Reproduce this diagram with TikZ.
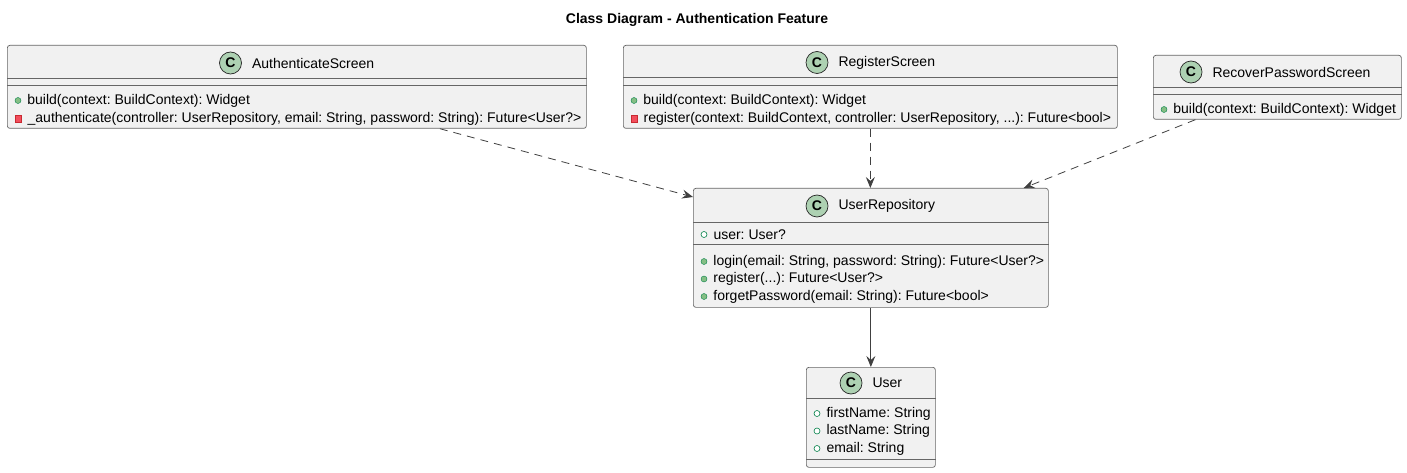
\documentclass[tikz,border=0pt]{standalone}
\usepackage{fontspec}
\setmainfont{Liberation Sans}
\usepackage{xcolor}
\usepackage{tikz}
\usetikzlibrary{positioning,arrows.meta}
\frenchspacing

\definecolor{boxfill}{HTML}{F1F1F1}
\definecolor{iconfill}{HTML}{ADD1B2}
\definecolor{pubfill}{HTML}{84BE84}
\definecolor{pubdraw}{HTML}{038048}
\definecolor{privfill}{HTML}{F24D5C}
\definecolor{privdraw}{HTML}{C82930}

\begin{document}
\begin{tikzpicture}[
    x=1pt, y=-1pt,
    every node/.style={font=\fontsize{14}{17}\selectfont},
    classbox/.style={rectangle, draw=black!60, fill=boxfill, line width=0.7pt, rounded corners=2.5pt, anchor=north west, inner sep=0pt},
    sep/.style={draw=black!60, line width=0.7pt},
    cicon/.style={circle, draw=black!85, fill=iconfill, line width=0.7pt, minimum size=22pt, inner sep=0pt, font=\fontsize{14}{17}\selectfont\bfseries},
    cname/.style={anchor=west, inner sep=0pt},
    member/.style={anchor=west, inner sep=0pt},
    pubm/.style={circle, draw=pubdraw, fill=pubfill, minimum size=6pt, inner sep=0pt},
    privm/.style={rectangle, draw=privdraw, fill=privfill, minimum size=6.5pt, inner sep=0pt},
    pubf/.style={circle, draw=pubdraw, fill=white, line width=0.6pt, minimum size=6pt, inner sep=0pt},
    dep/.style={-{Stealth[length=11pt, width=9pt, inset=4pt]}, dash pattern=on 8pt off 6pt, draw=black!75, line width=0.8pt},
    assoc/.style={-{Stealth[length=11pt, width=9pt, inset=4pt]}, draw=black!75, line width=0.8pt},
]
\path[fill=white] (0,0) rectangle (1407,473);

\node[font=\fontsize{14}{17}\selectfont\bfseries] (title) at (697,20) {Class Diagram - Authentication Feature};

% AuthenticateScreen
\node[classbox, minimum width=579pt, minimum height=83pt] (auth) at (7,45) {};
\draw[sep] ([yshift=-33pt]auth.north west) -- ([yshift=-33pt]auth.north east);
\draw[sep] ([yshift=-40pt]auth.north west) -- ([yshift=-40pt]auth.north east);
\node[cicon] (authI) at (230.5,63) {C};
\node[cname, right=10pt of authI] (authN) {AuthenticateScreen};
\node[pubm] (authM1) at (18,100.5) {};
\node[member, right=6pt of authM1] (authT1) {build(context: BuildContext): Widget};
\node[privm] (authM2) at (18,118.5) {};
\node[member, right=6pt of authM2] (authT2) {\_authenticate(controller: UserRepository, email: String, password: String): Future<User?>};

% RegisterScreen
\node[classbox, minimum width=494pt, minimum height=83pt] (reg) at (623,45) {};
\draw[sep] ([yshift=-32pt]reg.north west) -- ([yshift=-32pt]reg.north east);
\draw[sep] ([yshift=-40pt]reg.north west) -- ([yshift=-40pt]reg.north east);
\node[cicon] (regI) at (817,62.5) {C};
\node[cname, right=10pt of regI] (regN) {RegisterScreen};
\node[pubm] (regM1) at (634,100.5) {};
\node[member, right=6pt of regM1] (regT1) {build(context: BuildContext): Widget};
\node[privm] (regM2) at (634,118.5) {};
\node[member, right=6pt of regM2] (regT2) {register(context: BuildContext, controller: UserRepository, ...): Future<bool>};

% RecoverPasswordScreen
\node[classbox, minimum width=248pt, minimum height=64pt] (rec) at (1153,55) {};
\draw[sep] ([yshift=-32pt]rec.north west) -- ([yshift=-32pt]rec.north east);
\draw[sep] ([yshift=-39pt]rec.north west) -- ([yshift=-39pt]rec.north east);
\node[cicon] (recI) at (1191,72) {C};
\node[cname, right=10pt of recI] (recN) {RecoverPasswordScreen};
\node[pubm] (recM1) at (1164,109.5) {};
\node[member, right=6pt of recM1] (recT1) {build(context: BuildContext): Widget};

% UserRepository
\node[classbox, minimum width=355pt, minimum height=119pt] (repo) at (693,188) {};
\draw[sep] ([yshift=-34pt]repo.north west) -- ([yshift=-34pt]repo.north east);
\draw[sep] ([yshift=-56pt]repo.north west) -- ([yshift=-56pt]repo.north east);
\node[cicon] (repoI) at (817,206) {C};
\node[cname, right=10pt of repoI] (repoN) {UserRepository};
\node[pubf] (repoF1) at (704,234.5) {};
\node[member, right=6pt of repoF1] (repoA1) {user: User?};
\node[pubm] (repoM1) at (704,261.5) {};
\node[member, right=6pt of repoM1] (repoT1) {login(email: String, password: String): Future<User?>};
\node[pubm] (repoM2) at (704,279) {};
\node[member, right=6pt of repoM2] (repoT2) {register(...): Future<User?>};
\node[pubm] (repoM3) at (704,296.5) {};
\node[member, right=6pt of repoM3] (repoT3) {forgetPassword(email: String): Future<bool>};

% User
\node[classbox, minimum width=129pt, minimum height=100pt] (user) at (806,367) {};
\draw[sep] ([yshift=-31pt]user.north west) -- ([yshift=-31pt]user.north east);
\draw[sep] ([yshift=-92pt]user.north west) -- ([yshift=-92pt]user.north east);
\node[cicon] (userI) at (851,383) {C};
\node[cname, right=10pt of userI] (userN) {User};
\node[pubf] (userF1) at (817,413.5) {};
\node[member, right=6pt of userF1] (userA1) {firstName: String};
\node[pubf] (userF2) at (817,431) {};
\node[member, right=6pt of userF2] (userA2) {lastName: String};
\node[pubf] (userF3) at (817,448.5) {};
\node[member, right=6pt of userF3] (userA3) {email: String};

\draw[dep] ([xshift=143pt]auth.south) -- ([yshift=-9pt]repo.north west);
\draw[dep] (reg.south) -- (reg.south |- repo.north);
\draw[dep] ([xshift=-82pt]rec.south) -- ([xshift=-25pt]repo.north east);
\draw[assoc] (repo.south) -- (repo.south |- user.north);
\end{tikzpicture}
\end{document}
